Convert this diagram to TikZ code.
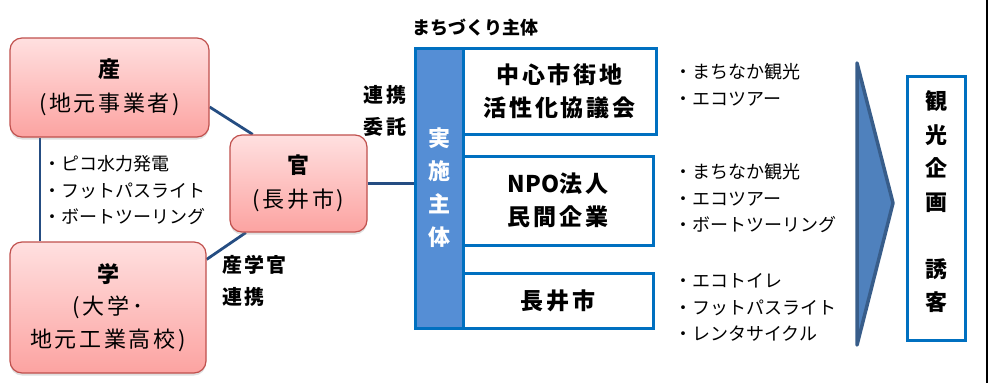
\documentclass[tikz,border=0pt]{standalone}
\usepackage{fontspec}
\setmainfont{Noto Sans CJK JP}
\newfontfamily\jpwide[LetterSpace=12]{Noto Sans CJK JP}
\usepackage{xcolor}
\usetikzlibrary{shapes,arrows,positioning,calc,shadows,backgrounds}

\definecolor{pinkTop}{HTML}{FFE0E0}
\definecolor{pinkBot}{HTML}{FCA3A1}
\definecolor{pinkLine}{HTML}{C0504D}
\definecolor{linkBlue}{HTML}{254D82}
\definecolor{boxBlue}{HTML}{0070C0}
\definecolor{barBlue}{HTML}{558ED5}
\definecolor{arrowFill}{HTML}{4F81BD}
\definecolor{arrowLine}{HTML}{385D8A}

\begin{document}
\begin{tikzpicture}[x=1pt,y=-1pt,
    pinkbox/.style={draw=pinkLine, line width=1.2pt, rounded corners=12pt,
        top color=pinkTop, bottom color=pinkBot,
        drop shadow={shadow xshift=0pt, shadow yshift=-2.5pt, opacity=0.25},
        align=center, inner sep=0pt, font=\jpwide\fontsize{22}{34}\selectfont},
    bluebox/.style={draw=boxBlue, line width=3pt, fill=white, align=center,
        inner sep=0pt, font=\jpwide\bfseries\fontsize{23}{33}\selectfont},
    barbox/.style={draw=boxBlue, line width=3pt, fill=barBlue, text=white,
        align=center, inner sep=0pt, font=\bfseries\fontsize{22}{33}\selectfont},
    vlabel/.style={align=center, inner sep=0pt, font=\bfseries\fontsize{22}{33.5}\selectfont},
    bullets/.style={align=left, anchor=west, inner sep=0pt, font=\fontsize{18}{26.5}\selectfont},
    tag/.style={align=left, inner sep=0pt, font=\jpwide\bfseries\fontsize{20}{32}\selectfont},
    link/.style={draw=linkBlue, line width=2.8pt},
    chevron/.style={draw=arrowLine, fill=arrowFill, line width=3.5pt, line join=round}
]
    \useasboundingbox (0,0) rectangle (998,383);

    % Partners
    \node[pinkbox, minimum width=199, minimum height=99] (san) at (109.5,87.5)
        {{\bfseries 産}\\(地元事業者)};
    \node[pinkbox, minimum width=137, minimum height=97] (kan) at (298.5,183.5)
        {{\bfseries 官}\\(長井市)};
    \node[pinkbox, minimum width=196, minimum height=131, font=\jpwide\fontsize{22}{32.5}\selectfont] (gaku) at (108,307.5)
        {{\bfseries 学}\\(大学･\\地元工業高校)};

    % Links between partners
    \coordinate (vx) at (40,0);
    \begin{scope}[on background layer]
        \draw[link] (vx |- san.south) -- (vx |- gaku.north);
        \draw[link] (san.-11) -- (kan.133);
        \draw[link] (gaku.26) -- (kan.-137);
    \end{scope}

    \node[bullets] (sanlist) at (43,190.5)
        {・ピコ水力発電\\・フットパスライト\\・ボートツーリング};
    \node[tag, anchor=west] (sangaku) at (222,281) {産学官\\連携};
    \node[tag] (itaku) at (385,111) {連携\\委託};

    % Bodies
    \node[tag, anchor=west, font=\bfseries\fontsize{18}{24}\selectfont] (machi) at (412,28) {まちづくり主体};
    \node[bluebox, minimum width=193, minimum height=86] (chushin) at (559.5,91)
        {中心市街地\\活性化協議会};
    \node[bluebox, minimum width=190, minimum height=89] (npo) at (558,200.5)
        {{\normalfont\bfseries NPO}法人\\民間企業};
    \node[bluebox, minimum width=190, minimum height=55] (city) at (558,300.5) {長井市};
    \node[barbox, minimum width=48, minimum height=280] (jisshi) at (439,188)
        {実\\施\\主\\体};
    \begin{scope}[on background layer]
        \draw[link] (kan.east) -- (kan.east -| jisshi.west);
    \end{scope}

    % Activities
    \node[bullets] (listA) at (674,85) {・まちなか観光\\・エコツアー};
    \node[bullets] (listB) at (674,198.5)
        {・まちなか観光\\・エコツアー\\・ボートツーリング};
    \node[bullets] (listC) at (674,307.5)
        {・エコトイレ\\・フットパスライト\\・レンタサイクル};

    % Chevron and result
    \coordinate (ctop) at (857,63);
    \coordinate (ctip) at (893,203);
    \coordinate (cbot) at (857,345);
    \draw[chevron] (ctop) -- (ctip) -- (cbot) -- cycle;

    \node[draw=boxBlue, line width=3pt, minimum width=58, minimum height=264] (kanko) at (936,208) {};
    \node[vlabel] (kankotext) at (936,202) {観\\光\\企\\画\\[33.5pt]誘\\客};

    % Frame edge
    \draw[line width=2pt] (987,0) -- (987,383);
\end{tikzpicture}
\end{document}
